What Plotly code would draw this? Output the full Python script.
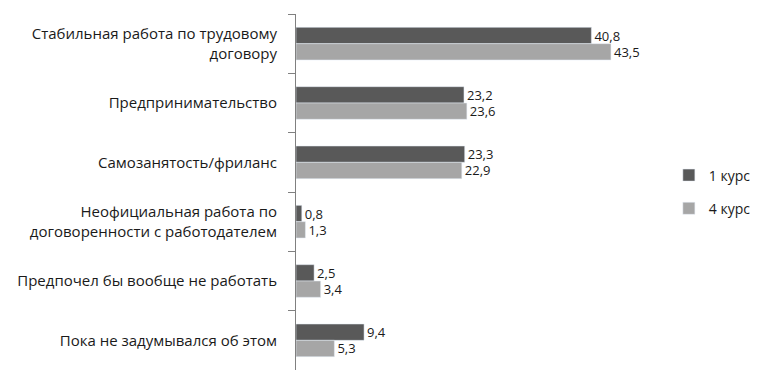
import plotly.graph_objects as go

categories = [
    "Стабильная работа по трудовому<br>договору",
    "Предпринимательство",
    "Самозанятость/фриланс",
    "Неофициальная работа по<br>договоренности с работодателем",
    "Предпочел бы вообще не работать",
    "Пока не задумывался об этом",
]
course1 = [40.8, 23.2, 23.3, 0.8, 2.5, 9.4]
course4 = [43.5, 23.6, 22.9, 1.3, 3.4, 5.3]
series_names = ["1 курс", "4 курс"]

def fmt(vals):
    return [f"{v:.1f}".replace(".", ",") for v in vals]

fig = go.Figure()
fig.add_trace(go.Bar(y=categories, x=course1, orientation="h", name=series_names[0],
                     legendgroup="a",
                     marker_color="#595959", text=fmt(course1), textposition="outside",
                     constraintext="none",
                     textfont=dict(color="#1a1a1a", size=13), cliponaxis=False))
fig.add_trace(go.Bar(y=categories, x=course4, orientation="h", name=series_names[1],
                     legendgroup="b",
                     marker_color="#a6a6a6", text=fmt(course4), textposition="outside",
                     constraintext="none",
                     textfont=dict(color="#1a1a1a", size=13), cliponaxis=False))

fig.update_layout(
    width=754, height=368,
    margin=dict(l=288, r=104, t=6, b=6, autoexpand=False),
    barmode="group", bargap=0.45, bargroupgap=0,
    plot_bgcolor="white", paper_bgcolor="white",
    font=dict(family="Open Sans", size=15, color="#1a1a1a"),
    legend=dict(x=1.03, y=0.5, xanchor="left", yanchor="middle",
                font=dict(size=14), itemwidth=30, tracegroupgap=12),
    xaxis=dict(range=[0, 50], showticklabels=False, showgrid=False, zeroline=False, showline=False),
    yaxis=dict(autorange="reversed", showline=True, linecolor="#808080", linewidth=1,
               ticks="outside", ticklen=7, tickcolor="#808080", tickson="boundaries",
               showgrid=False, ticklabelstandoff=15, automargin=False),
)
fig.write_html("out.html")
